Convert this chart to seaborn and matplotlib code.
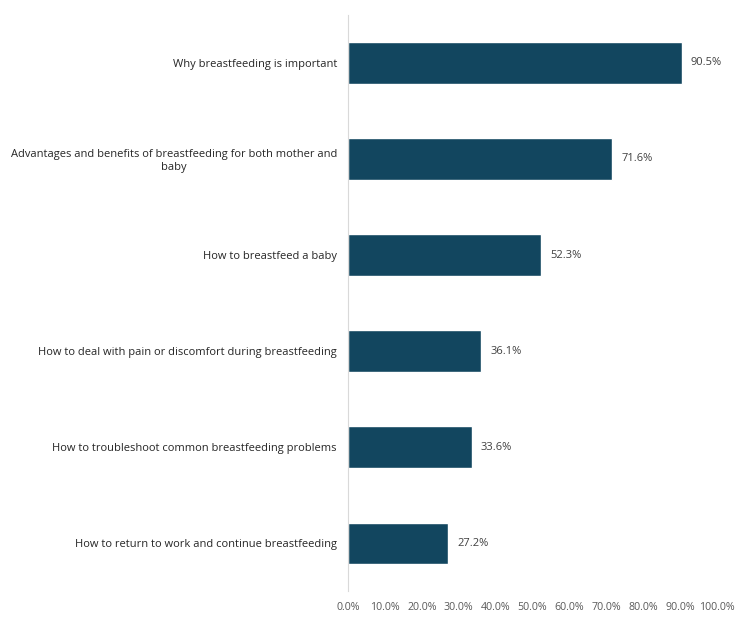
import matplotlib
matplotlib.use("Agg")
import matplotlib.pyplot as plt
import seaborn as sns
import pandas as pd

topics = [
    "Why breastfeeding is important",
    "Advantages and benefits of breastfeeding for both mother and\nbaby",
    "How to breastfeed a baby",
    "How to deal with pain or discomfort during breastfeeding",
    "How to troubleshoot common breastfeeding problems",
    "How to return to work and continue breastfeeding",
]
shares = [90.5, 71.6, 52.3, 36.1, 33.6, 27.2]
x_ticks = [0, 10, 20, 30, 40, 50, 60, 70, 80, 90, 100]

df = pd.DataFrame({"Topic": topics, "Share": shares})

sns.set_theme(style="white")
plt.rcParams["font.family"] = ["Open Sans", "DejaVu Sans"]

fig = plt.figure(figsize=(7.5, 6.21), dpi=100)
ax = fig.add_axes([0.464, 0.048, 0.492, 0.928])

sns.barplot(data=df, y="Topic", x="Share", color="#12465F", width=0.43,
            saturation=1, ax=ax)

for bars in ax.containers:
    ax.bar_label(bars, labels=[f"{v:.1f}%" for v in shares], padding=6.5,
                 fontsize=8, color="#404040")

ax.set_xlim(0, 100)
ax.set_ylim(5.5, -0.5)
ax.set_xticks(x_ticks)
ax.set_xticklabels([f"{t:.1f}%" for t in x_ticks], fontsize=7.7, color="#595959")
ax.tick_params(axis="x", length=0, pad=8)
ax.tick_params(axis="y", length=0, pad=8, labelsize=8, labelcolor="#262626")
for lbl in ax.get_yticklabels():
    lbl.set_multialignment("center")
ax.set_xlabel("")
ax.set_ylabel("")

for s in ["top", "right", "bottom"]:
    ax.spines[s].set_visible(False)
ax.spines["left"].set_color("#D9D9D9")
ax.spines["left"].set_linewidth(0.8)

fig.savefig("out.png", dpi=100)
